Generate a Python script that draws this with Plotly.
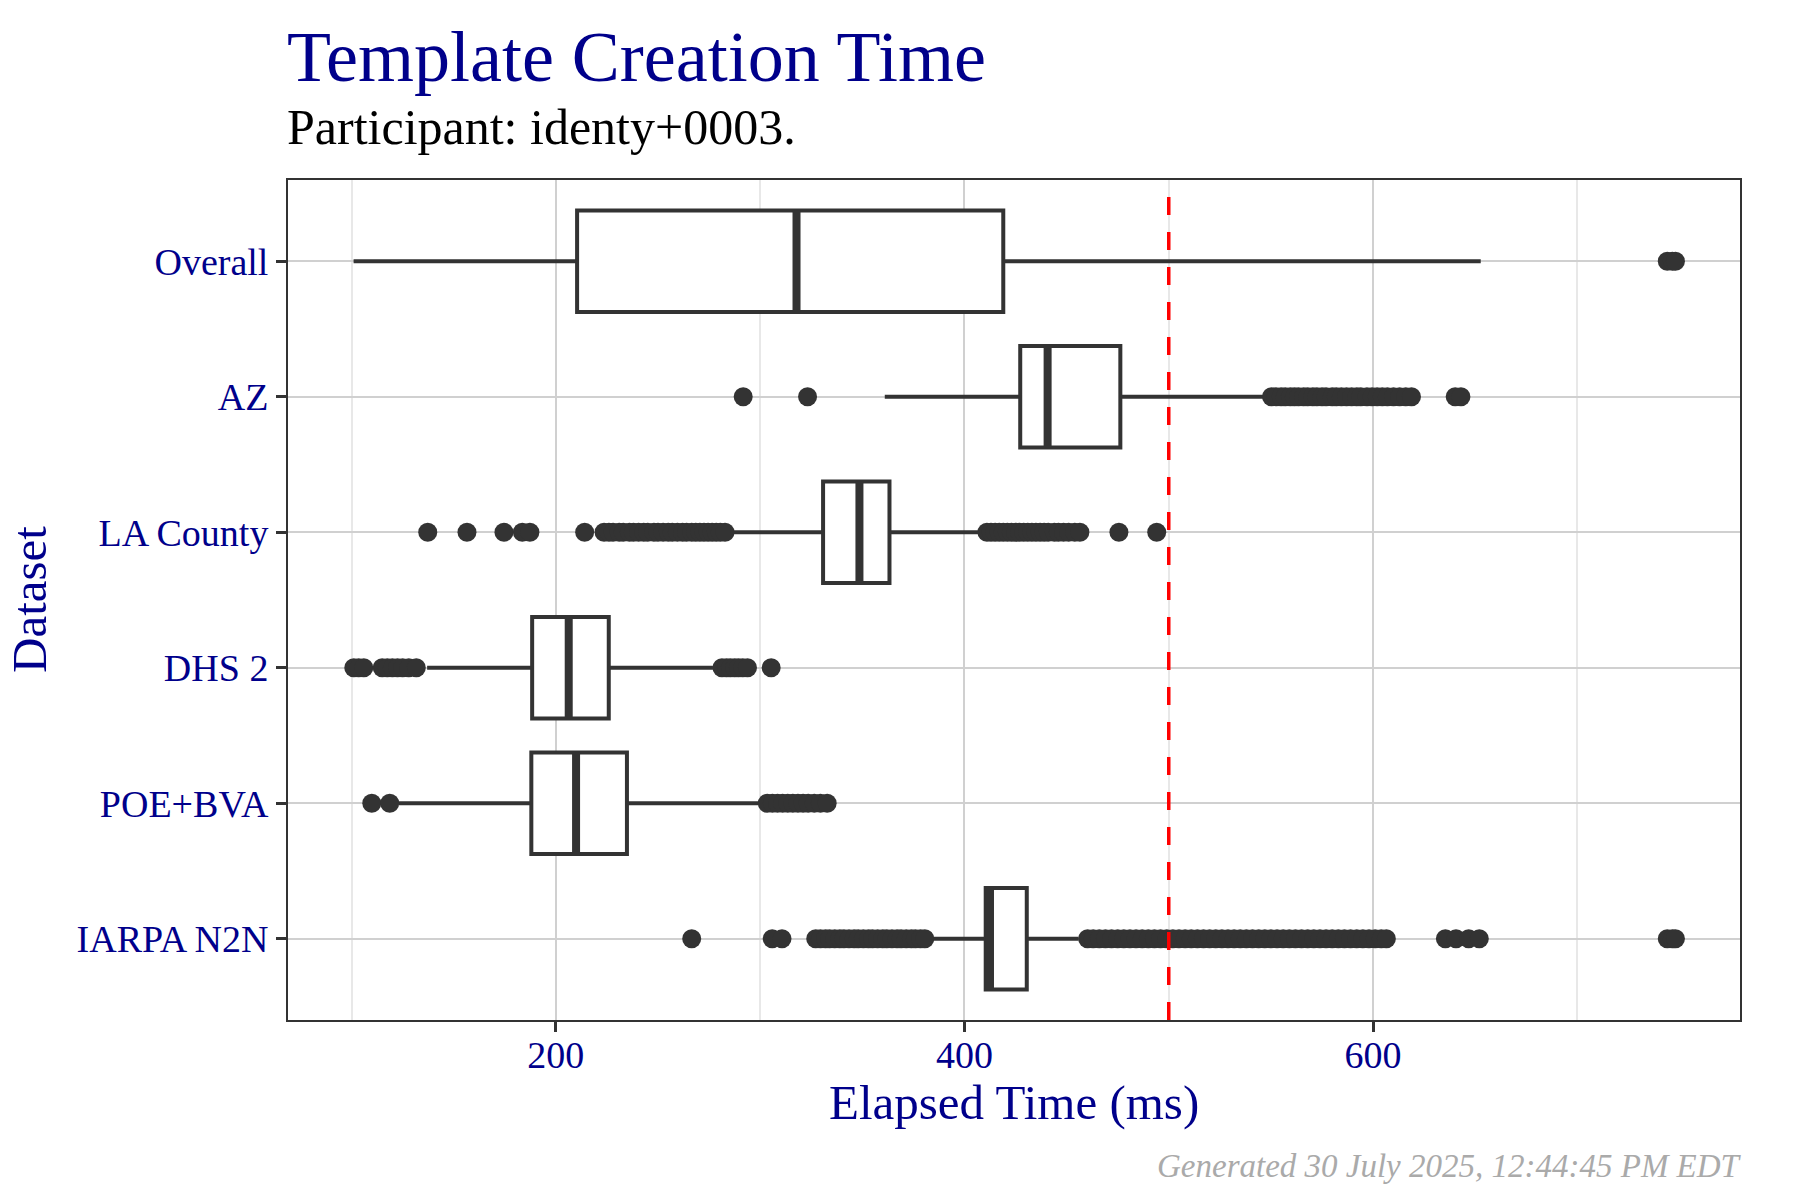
import plotly.graph_objects as go

# ---- data -------------------------------------------------------------
categories = ["Overall", "AZ", "LA County", "DHS 2", "POE+BVA", "IARPA N2N"]

# box statistics (ms), same order as categories
q1 = [210.4, 427.3, 330.8, 188.4, 188.0, 410.4]
median = [317.8, 440.7, 348.6, 206.3, 209.9, 412.5]
q3 = [419.0, 476.3, 363.3, 225.9, 234.8, 430.5]
whisker_low = [101.0, 361.0, 287.0, 137.0, 123.1, 384.5]
whisker_high = [652.7, 546.6, 407.0, 276.9, 300.5, 455.9]

# outlying template-creation times (ms)
outliers_overall = [744.0, 746.5, 748.0]
outliers_az = [291.7, 323.2,
               550.3, 552.5, 555.0, 557.0, 559.5, 561.5, 563.5, 566.0, 568.0, 570.5,
               572.5, 575.0, 577.0, 580.0, 582.0, 584.5, 587.0, 589.5, 592.0, 594.0,
               597.0, 599.5, 602.0, 604.5, 607.0, 610.0, 613.0, 616.0, 618.8,
               640.2, 643.0]
outliers_la = [137.3, 156.5, 174.6, 183.6, 187.3, 214.1,
               223.6, 226.0, 228.0, 231.0, 233.0, 236.0, 238.0, 240.5, 243.0, 245.0,
               248.0, 250.0, 252.5, 255.0, 257.0, 259.5, 262.0, 264.0, 266.5, 268.5,
               270.5, 272.5, 274.5, 276.5, 278.5, 280.5, 282.8,
               411.0, 413.0, 415.0, 417.0, 419.0, 421.0, 423.0, 425.0, 427.0, 429.0,
               431.0, 433.0, 435.0, 437.0, 439.0, 441.0, 444.0, 446.0, 448.5, 451.0,
               454.0, 456.5, 475.6, 494.1]
outliers_dhs = [101.1, 103.5, 106.0, 115.0, 117.5, 120.0, 122.5, 125.0, 128.0, 131.7,
                281.3, 283.5, 285.4, 287.5, 289.4, 291.5, 293.8, 305.4]
outliers_poe = [109.9, 118.7,
                303.5, 306.0, 308.5, 311.0, 313.5, 316.0, 318.5, 321.0, 323.5, 326.5,
                329.5, 332.8]
outliers_iarpa = [266.5, 305.9, 310.7,
                  327.2, 329.5, 332.0, 334.0, 336.5, 339.0, 341.0, 343.5, 346.0, 348.0,
                  350.5, 353.0, 355.0, 357.5, 360.0, 362.0, 364.5, 367.0, 369.0, 371.5,
                  374.0, 376.0, 378.5, 380.6,
                  460.3, 463.0, 466.0, 469.0, 472.0, 475.0, 478.0, 481.0, 484.0, 487.0,
                  490.0, 493.0, 496.0, 499.0, 502.0, 505.0, 508.0, 511.0, 514.0, 517.0,
                  520.0, 523.0, 526.0, 529.0, 532.0, 535.0, 538.0, 541.0, 544.0, 547.0,
                  550.0, 553.0, 556.0, 559.0, 562.0, 565.0, 568.0, 571.0, 574.0, 577.0,
                  580.0, 583.0, 586.0, 589.0, 592.0, 595.0, 598.0, 601.0, 604.0, 606.5,
                  635.4, 640.6, 646.8, 652.0,
                  744.0, 746.5, 748.0]
outliers = [outliers_overall, outliers_az, outliers_la,
            outliers_dhs, outliers_poe, outliers_iarpa]

threshold_ms = 500
x_ticks = [200, 400, 600]
x_minor_ticks = [100, 300, 500, 700]

title_text = "Template Creation Time"
subtitle_text = "Participant: identy+0003."
x_title = "Elapsed Time (ms)"
y_title = "Dataset"
caption_text = "Generated 30 July 2025, 12:44:45 PM EDT"

# ---- styling ----------------------------------------------------------
FONT = "Liberation Serif, Times New Roman, serif"
NAVY = "#00008B"
INK = "#333333"
BOX_WIDTH = 0.75

# first category on top
positions = list(range(len(categories) - 1, -1, -1))

fig = go.Figure()

fig.add_trace(go.Box(
    y=positions,
    q1=q1, median=median, q3=q3,
    lowerfence=whisker_low, upperfence=whisker_high,
    orientation="h",
    boxpoints=False,
    width=BOX_WIDTH,
    whiskerwidth=0,
    fillcolor="white",
    line=dict(color=INK, width=4),
    showlegend=False,
    hoverinfo="skip",
))

# heavier median bars
med_x, med_y = [], []
for pos, m in zip(positions, median):
    med_x += [m, m, None]
    med_y += [pos - BOX_WIDTH / 2, pos + BOX_WIDTH / 2, None]
fig.add_trace(go.Scatter(
    x=med_x, y=med_y, mode="lines",
    line=dict(color=INK, width=8),
    showlegend=False, hoverinfo="skip",
))

# outlier points
pt_x, pt_y = [], []
for pos, vals in zip(positions, outliers):
    pt_x += vals
    pt_y += [pos] * len(vals)
fig.add_trace(go.Scatter(
    x=pt_x, y=pt_y, mode="markers",
    marker=dict(color=INK, size=19, line=dict(width=0)),
    showlegend=False, hoverinfo="skip",
))

# 500 ms reference line
fig.add_shape(
    type="line", x0=threshold_ms, x1=threshold_ms, y0=0, y1=1,
    xref="x", yref="paper", layer="above",
    line=dict(color="#FF0000", width=3.5, dash="18px,17px"),
)

axis_common = dict(
    showline=True, mirror=True, linecolor=INK, linewidth=2,
    ticks="outside", ticklen=10, tickwidth=2.5, tickcolor=INK,
    tickfont=dict(family=FONT, size=38, color=NAVY),
    zeroline=False,
)

fig.update_xaxes(
    range=[68.9, 779.6],
    tickmode="array", tickvals=x_ticks, ticktext=[str(v) for v in x_ticks],
    showgrid=True, gridcolor="#D0D0D0", gridwidth=2,
    minor=dict(tickmode="array", tickvals=x_minor_ticks, showgrid=True,
               gridcolor="#E8E8E8", gridwidth=1.5, ticks=""),
    ticklabelstandoff=-10,
    **axis_common,
)
fig.update_yaxes(
    range=[-0.6, len(categories) - 0.4],
    tickmode="array", tickvals=positions, ticktext=categories,
    showgrid=True, gridcolor="#D0D0D0", gridwidth=2,
    **axis_common,
)

annotations = [
    dict(text=title_text, x=0, y=(1020 - 57) / 840, xanchor="left", yanchor="middle",
         xshift=-3, font=dict(family=FONT, size=72, color=NAVY)),
    dict(text=subtitle_text, x=0, y=(1020 - 127) / 840, xanchor="left", yanchor="middle",
         xshift=-3, font=dict(family=FONT, size=50, color="black")),
    dict(text=x_title, x=0.5, y=(1020 - 1102) / 840, xanchor="center", yanchor="middle",
         font=dict(family=FONT, size=49, color=NAVY)),
    dict(text=y_title, x=(29 - 288) / 1452, y=0.5, xanchor="center", yanchor="middle",
         textangle=-90, font=dict(family=FONT, size=49, color=NAVY)),
    dict(text="<i>" + caption_text + "</i>", x=1, y=(1020 - 1166) / 840,
         xanchor="right", yanchor="middle", xshift=4,
         font=dict(family=FONT, size=33, color="#AAAAAA")),
]
for a in annotations:
    a.update(xref="paper", yref="paper", showarrow=False)

fig.update_layout(
    width=1800, height=1200,
    margin=dict(l=288, r=60, t=180, b=180),
    paper_bgcolor="white", plot_bgcolor="white",
    font=dict(family=FONT),
    annotations=annotations,
    showlegend=False,
)

fig.write_html("out.html")
